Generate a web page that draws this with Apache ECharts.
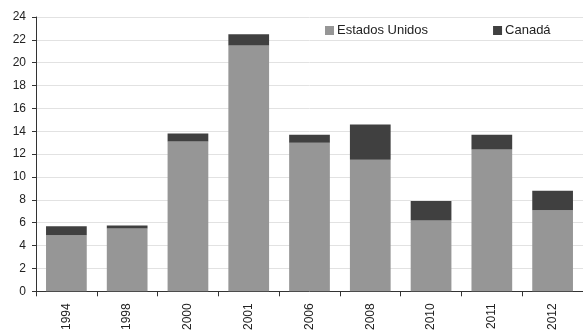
<!DOCTYPE html>
<html><head><meta charset="utf-8">
<script src="https://cdn.jsdelivr.net/npm/echarts@6/dist/echarts.min.js"></script>
<style>html,body{margin:0;padding:0;background:#fff}#c{width:583px;height:333px}</style>
</head><body><div id="c"></div>
<script>
var categories = ['1994','1998','2000','2001','2006','2008','2010','2011','2012'];
var estadosUnidos = [4.9, 5.5, 13.1, 21.5, 13.0, 11.5, 6.2, 12.4, 7.1];
var canada = [0.8, 0.25, 0.7, 1.0, 0.7, 3.1, 1.7, 1.3, 1.7];
var yTicks = [0, 24, 2];

var chart = echarts.init(document.getElementById('c'), null, {renderer:'canvas'});
chart.setOption({
  animation: false,
  textStyle: {fontFamily: 'Liberation Sans, Arial, sans-serif'},
  grid: {left: 36, right: 0, top: 17, bottom: 40, containLabel: false},
  legend: {
    top: 19, left: 320, itemWidth: 9, itemHeight: 9, itemGap: 65,
    icon: 'rect',
    textStyle: {fontSize: 13, color: '#222', fontFamily: 'Liberation Sans, Arial, sans-serif', padding:[0,0,0,-2]},
    data: ['Estados Unidos', 'Canadá']
  },
  xAxis: {
    type: 'category', data: categories,
    axisLine: {lineStyle: {color: '#333', width: 1}},
    axisTick: {show: true, length: 5, lineStyle: {color: '#333'}},
    axisLabel: {rotate: 90, fontSize: 12, color: '#222', margin: 12}
  },
  yAxis: {
    type: 'value', min: yTicks[0], max: yTicks[1], interval: yTicks[2],
    axisLine: {show: true, lineStyle: {color: '#333'}},
    axisTick: {show: true, length: 4, lineStyle: {color: '#333'}},
    axisLabel: {fontSize: 12, color: '#222', margin: 10},
    splitLine: {lineStyle: {color: '#e2e2e2', width: 1}}
  },
  series: [
    {name: 'Estados Unidos', type: 'bar', stack: 't', data: estadosUnidos, barCategoryGap: '33%', itemStyle: {color: '#969696'}},
    {name: 'Canadá', type: 'bar', stack: 't', data: canada, itemStyle: {color: '#404040'}}
  ]
});
</script></body></html>
